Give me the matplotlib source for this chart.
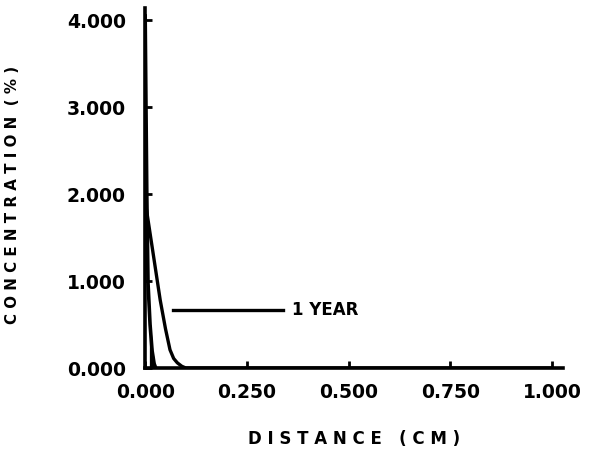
import numpy as np
import matplotlib.pyplot as plt

# outer curve (1 year)
x_year = [0.0, 0.012, 0.025, 0.037, 0.050, 0.061, 0.070, 0.079, 0.090, 0.100, 0.200, 0.500, 0.800, 1.000]
c_year = [1.92, 1.55, 1.15, 0.78, 0.45, 0.21, 0.11, 0.06, 0.02, 0.0, 0.0, 0.0, 0.0, 0.0]

# inner (steep) curve
x_short = [0.0, 0.002, 0.004, 0.007, 0.012, 0.017, 0.022, 0.026]
c_short = [4.05, 3.0, 2.0, 0.98, 0.50, 0.20, 0.05, 0.0]

xticks = [0.0, 0.25, 0.5, 0.75, 1.0]
yticks = [0.0, 1.0, 2.0, 3.0, 4.0]

plt.rcParams['font.family'] = ['DejaVu Sans']
plt.rcParams['font.weight'] = 'bold'

fig = plt.figure(figsize=(5.95, 4.51), dpi=100)
ax = fig.add_axes([0.244, 0.184, 0.702, 0.798])

ax.plot(x_year, c_year, color='black', lw=2.4)
ax.plot(x_short, c_short, color='black', lw=2.6)
ax.fill_between(x_short, c_short, 0, where=np.array(c_short) < 0.6, color='black')

ax.set_xlim(0, 1.027)
ax.set_ylim(0, 4.14)
ax.spines['top'].set_visible(False)
ax.spines['right'].set_visible(False)
ax.spines['left'].set_linewidth(2.6)
ax.spines['bottom'].set_linewidth(2.6)

ax.set_xticks(xticks)
ax.set_xticklabels(['%.3f' % v for v in xticks])
ax.set_yticks(yticks)
ax.set_yticklabels(['%.3f' % v for v in yticks])
ax.tick_params(direction='in', length=5, width=2, labelsize=13.5)
ax.tick_params(axis='x', pad=11)
ax.tick_params(axis='y', pad=14)
for lab in ax.get_xticklabels() + ax.get_yticklabels():
    lab.set_fontweight('heavy')

ax.set_xlabel('D I S T A N C E   ( C M )', fontsize=12, fontweight='heavy', labelpad=20)
ax.set_ylabel('C O N C E N T R A T I O N  ( % )', fontsize=10.8, fontweight='heavy')
ax.yaxis.set_label_coords(-0.30, 0.48)

# label for the 1 year curve
ax.plot([0.069, 0.34], [0.67, 0.67], color='black', lw=2.4)
ax.text(0.362, 0.67, '1 YEAR', fontsize=12, fontweight='heavy', va='center')

fig.savefig('out.png', dpi=100)
